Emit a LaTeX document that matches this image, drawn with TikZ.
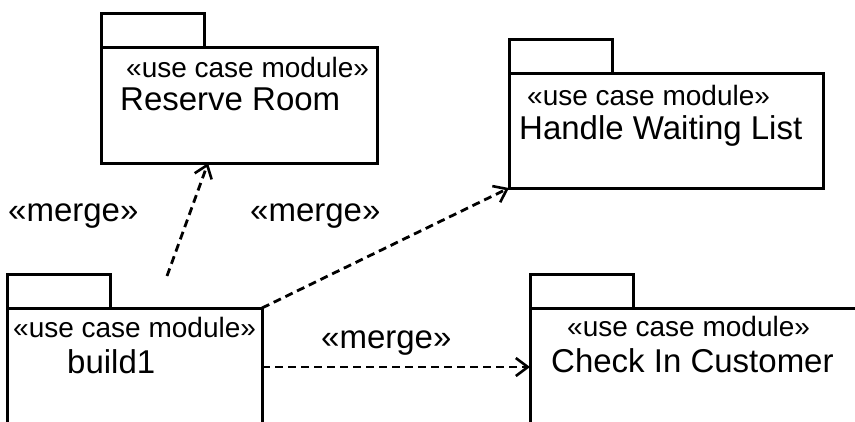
\documentclass[tikz,border=0pt]{standalone}
\usepackage{fontspec}
\setmainfont{Liberation Sans}
\usetikzlibrary{positioning,arrows.meta}

\begin{document}
\begin{tikzpicture}[x=1pt,y=-1pt,
  pkgbody/.style={draw, line width=3pt, inner sep=0pt, outer sep=0pt, anchor=north west},
  pkgtab/.style={draw, line width=3pt, inner sep=0pt, outer sep=0pt,
    minimum width=103pt, minimum height=34pt},
  stereo/.style={anchor=base west, inner sep=0pt, font=\fontsize{28}{30}\selectfont},
  pkgname/.style={anchor=base west, inner sep=0pt, font=\fontsize{33}{36}\selectfont},
  mergelabel/.style={anchor=base west, inner sep=0pt, font=\fontsize{33}{36}\selectfont},
  mergeline/.style={line width=2.8pt, dash pattern=on 8pt off 5pt,
    -{Straight Barb[length=12pt,width=18pt,line width=2.6pt]}}]

  \useasboundingbox (0,0) rectangle (855,421);

  %% packages
  \node[pkgbody, minimum width=276pt, minimum height=116pt] (room) at (101,47) {};
  \node[pkgtab, above right=0pt and 0pt of room.north west] (roomtab) {};
  \node[pkgbody, minimum width=314pt, minimum height=115pt] (wait) at (509,73) {};
  \node[pkgtab, above right=0pt and 0pt of wait.north west] (waittab) {};
  \node[pkgbody, minimum width=255pt, minimum height=140pt] (build) at (7,308) {};
  \node[pkgtab, above right=0pt and 0pt of build.north west] (buildtab) {};
  \node[pkgbody, minimum width=340pt, minimum height=140pt] (checkin) at (530,308) {};
  \node[pkgtab, above right=0pt and 0pt of checkin.north west] (checkintab) {};

  %% texts
  \node[stereo] (roomst) at (126,77) {«use case module»};
  \node[pkgname] (roomname) at (120,110) {Reserve Room};
  \node[stereo] (waitst) at (527,105) {«use case module»};
  \node[pkgname] (waitname) at (519,139) {Handle Waiting List};
  \node[stereo] (buildst) at (13,337) {«use case module»};
  \node[pkgname] (buildname) at (67,373) {build1};
  \node[stereo] (checkinst) at (567,336) {«use case module»};
  \node[pkgname] (checkinname) at (551,372) {Check In Customer};

  %% merges
  \coordinate (roomfrom) at (167,276);
  \draw[mergeline] (roomfrom) -- ([xshift=-31pt]room.south);
  \draw[mergeline] (build.north east) -- (wait.south west);
  \draw[mergeline] ([yshift=-59pt]build.north east) -- ([yshift=-59pt]checkin.north west);

  \node[mergelabel] (mergeroom) at (8,221) {«merge»};
  \node[mergelabel] (mergewait) at (250,221) {«merge»};
  \node[mergelabel] (mergecheckin) at (321,348) {«merge»};

\end{tikzpicture}
\end{document}
